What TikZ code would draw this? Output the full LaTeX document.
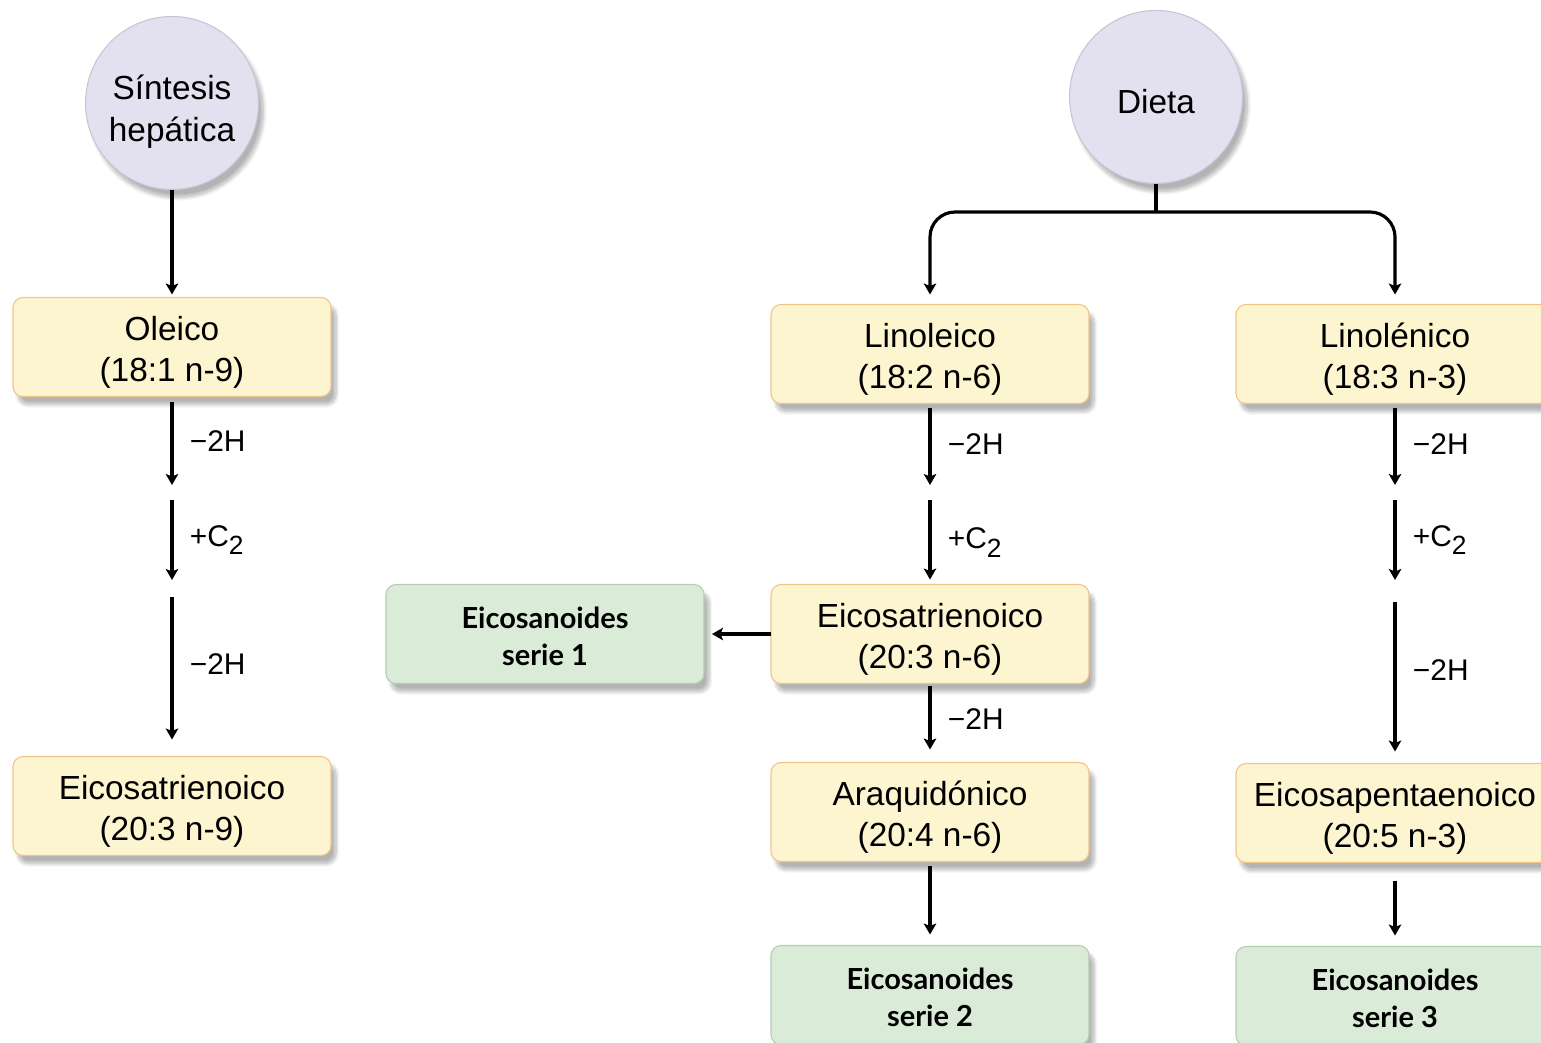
\documentclass[tikz,border=0pt]{standalone}
\usepackage{fontspec}
\setmainfont{Liberation Sans}
\newfontfamily\eicofont{Lato}
\usetikzlibrary{arrows.meta,positioning,shadows.blur}

\definecolor{acidfill}{HTML}{FDF5D0}
\definecolor{acidline}{HTML}{F0C486}
\definecolor{eicofill}{HTML}{DAECD8}
\definecolor{eicoline}{HTML}{B4CCB0}
\definecolor{srcfill}{HTML}{E3E1EF}
\definecolor{srcline}{HTML}{C6C4D6}

% top strut, lowers the text a little in its box
\newcommand{\tallrow}{\rule{0pt}{20pt}}
\newcommand{\eicorow}{\rule{0pt}{14.5pt}}
\newcommand{\carbon}{+C\raisebox{-5pt}{\fontsize{15}{15}\selectfont 2}}

\begin{document}
\begin{tikzpicture}[x=0.2mm,y=-0.2mm,
		Acid/.style={rectangle,rounded corners=2mm,draw=acidline,line width=0.6pt,fill=acidfill,align=center,
			minimum width=63.6mm,minimum height=19.8mm,inner sep=0pt,outer sep=0pt,
			font=\fontsize{19}{23.5}\selectfont,
			blur shadow={shadow xshift=1mm,shadow yshift=-1.6mm,shadow opacity=30,shadow blur steps=10}},
		Eico/.style={Acid,draw=eicoline,fill=eicofill,font=\eicofont\bfseries\fontsize{16.5}{21}\selectfont},
		Source/.style={circle,draw=srcline,line width=0.6pt,fill=srcfill,align=center,minimum size=34.6mm,
			inner sep=0pt,outer sep=0pt,font=\fontsize{19}{24}\selectfont,
			blur shadow={shadow xshift=1mm,shadow yshift=-1.6mm,shadow opacity=30,shadow blur steps=10}},
		Line/.style={line width=1.8pt},
		Arrow/.style={-{Stealth[length=2.2mm,width=2.5mm,inset=0.5mm]},line width=2.2pt},
		Fork/.style={Arrow,line width=1.8pt,rounded corners=5mm},
		Step/.style={anchor=west,xshift=3.2mm,inner sep=0pt,font=\fontsize{17}{20}\selectfont}]
		\useasboundingbox (0,0) rectangle (1541,1042);
		% sources
		\node[Source] (Sint) at (172,103) {\rule{0pt}{24pt}Síntesis\\hepática};
		\node[Source] (Dieta) at (1156,97) {\rule{0pt}{19.5pt}Dieta};
		% fatty acids
		\node[Acid] (Ole) [below=21.6mm of Sint] {\tallrow Oleico\\(18:1 n-9)};
		\node[Acid] (Eic9) [below=72mm of Ole] {\tallrow Eicosatrienoico\\(20:3 n-9)};
		\node[Acid] (Lino) at (930,354) {\tallrow Linoleico\\(18:2 n-6)};
		\node[Acid] (Lnl) [right=29.4mm of Lino] {\tallrow Linolénico\\(18:3 n-3)};
		\node[Acid] (Eic6) [below=36.2mm of Lino] {\tallrow Eicosatrienoico\\(20:3 n-6)};
		\node[Acid] (Ara) [below=15.8mm of Eic6] {\tallrow Araquidónico\\(20:4 n-6)};
		\node[Acid] (Epa) [below=72mm of Lnl] {\tallrow Eicosapentaenoico\\(20:5 n-3)};
		% eicosanoids
		\node[Eico] (Ser1) [left=13.4mm of Eic6] {\eicorow Eicosanoides\\serie 1};
		\node[Eico] (Ser2) [below=16.8mm of Ara] {\eicorow Eicosanoides\\serie 2};
		\node[Eico] (Ser3) [below=16.8mm of Epa] {\eicorow Eicosanoides\\serie 3};
		% gaps between steps
		\coordinate (o1) at (Ole.south |- 0,485);
		\coordinate (o2) at (Ole.south |- 0,500);
		\coordinate (o3) at (Ole.south |- 0,580);
		\coordinate (o4) at (Ole.south |- 0,597);
		\coordinate (l1) at (Lino.south |- 0,485);
		\coordinate (l2) at (Lino.south |- 0,500);
		\coordinate (n1) at (Lnl.south |- 0,485);
		\coordinate (n2) at (Lnl.south |- 0,500);
		\coordinate (n3) at (Lnl.south |- 0,580);
		\coordinate (n4) at (Lnl.south |- 0,602);
		\coordinate (fork) at (Dieta.south |- 0,212);
		% connections
		\draw[Arrow,shorten >=0.6mm] (Sint) -- (Ole);
		\draw[Arrow,shorten <=1mm] (Ole) -- (o1) node[Step,midway] {−2H};
		\draw[Arrow] (o2) -- (o3) node[Step,midway] {\carbon};
		\draw[Arrow,shorten >=3.4mm] (o4) -- (Eic9) node[Step,pos=0.42] {−2H};
		\draw[Line] (Dieta) -- (fork);
		\draw[Fork,shorten >=2mm] (fork) -| (Lino);
		\draw[Fork,shorten >=2mm] (fork) -| (Lnl);
		\draw[Arrow,shorten <=0.8mm] (Lino) -- (l1) node[Step,midway] {−2H};
		\draw[Arrow,shorten >=1mm] (l2) -- (Eic6) node[Step,midway] {\carbon};
		\draw[Arrow,shorten >=1.6mm] (Eic6) -- (Ser1);
		\draw[Arrow,shorten <=0.4mm,shorten >=2.6mm] (Eic6) -- (Ara) node[Step,pos=0.45] {−2H};
		\draw[Arrow,shorten <=0.8mm,shorten >=2.2mm] (Ara) -- (Ser2);
		\draw[Arrow,shorten <=0.8mm] (Lnl) -- (n1) node[Step,midway] {−2H};
		\draw[Arrow] (n2) -- (n3) node[Step,midway] {\carbon};
		\draw[Arrow,shorten >=2.4mm] (n4) -- (Epa) node[Step,pos=0.42] {−2H};
		\draw[Arrow,shorten <=3.6mm,shorten >=2.2mm] (Epa) -- (Ser3);
	\end{tikzpicture}
\end{document}
